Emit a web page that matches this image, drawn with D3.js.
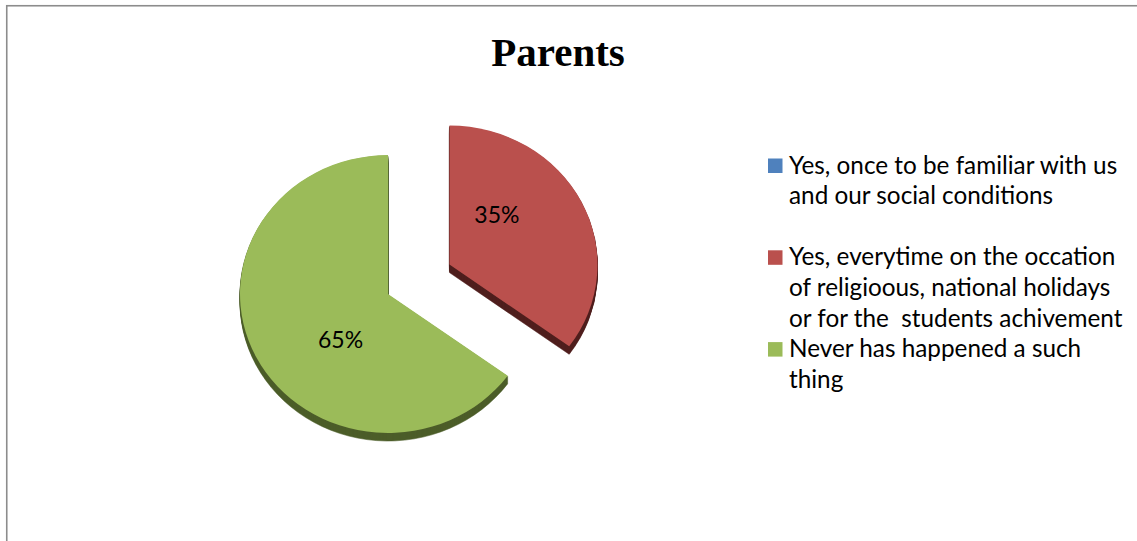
<!DOCTYPE html>
<html>
<head>
<meta charset="utf-8">
<script src="https://cdn.jsdelivr.net/npm/d3@7"></script>
<style>
  html, body { margin: 0; padding: 0; background: #fff; }
  svg { display: block; }
</style>
</head>
<body>
<svg id="chart" width="1137" height="541"></svg>
<script>
// Survey answers for the "Parents" question
const title = "Parents";
const categories = [
  "Yes, once to be familiar with us and our social conditions",
  "Yes, everytime on the occation of religioous, national holidays or for the  students achivement",
  "Never has happened a such thing"
];
// Legend text split into its display lines
const legendLines = [
  ["Yes, once to be familiar with us", "and our social conditions"],
  ["Yes, everytime on the occation", "of religioous, national holidays", "or for the  students achivement"],
  ["Never has happened a such", "thing"]
];
const values = [0, 35, 65];           // percent
const colors = ["#4F81BD", "#BA504D", "#9BBB59"];
const sideColors = ["#27405E", "#4F1F1E", "#4C5D29"];

const svg = d3.select("#chart");
const W = 1137, H = 541;

// chart frame (runs off the right and bottom edges)
svg.append("rect")
  .attr("x", 6.75).attr("y", 5.75)
  .attr("width", W + 20).attr("height", H + 20)
  .attr("fill", "#fff")
  .attr("stroke", "#8C8C8C").attr("stroke-width", 1.6);

// title
svg.append("text")
  .attr("x", 558).attr("y", 66)
  .attr("text-anchor", "middle")
  .attr("font-family", "'Liberation Serif', 'Times New Roman', serif")
  .attr("font-weight", "bold")
  .attr("font-size", 41)
  .attr("fill", "#000")
  .text(title);

// pie geometry: slightly tilted disc with a thin extruded edge
const cx = 388, cy = 294;
const R = 148;
const squash = 139 / 148;
const depth = 8;
const explodeIndex = 1;
const explodeDist = 69;
const labelShift = -20 * Math.PI / 180;

const total = d3.sum(values);
const pie = d3.pie().sort(null).value(d => d).startAngle(0).endAngle(2 * Math.PI);
const arcs = pie(values);
const arc = d3.arc().innerRadius(0).outerRadius(R);
const pct = d3.format(".0%");

const pieG = svg.append("g");

// draw the non-exploded slices first
const order = arcs.map((a, i) => i).sort((a, b) => (a === explodeIndex) - (b === explodeIndex));

order.forEach(i => {
  const a = arcs[i];
  if (a.endAngle - a.startAngle <= 0) return;
  const mid = (a.startAngle + a.endAngle) / 2;
  const dist = i === explodeIndex ? explodeDist : 0;
  const ox = cx + dist * Math.sin(mid);
  const oy = cy - dist * Math.cos(mid) * squash;
  const g = pieG.append("g");
  // extruded side
  for (let k = depth; k >= 1; k--) {
    g.append("path")
      .attr("transform", `translate(${ox},${oy + k}) scale(1,${squash})`)
      .attr("d", arc(a))
      .attr("fill", sideColors[i])
      .attr("stroke", sideColors[i])
      .attr("stroke-width", 0.6);
  }
  // top face
  g.append("path")
    .attr("transform", `translate(${ox},${oy}) scale(1,${squash})`)
    .attr("d", arc(a))
    .attr("fill", colors[i]);
});

// percentage labels
arcs.forEach((a, i) => {
  if (a.value <= 0) return;
  const mid = (a.startAngle + a.endAngle) / 2;
  const dist = i === explodeIndex ? explodeDist : 0;
  const ox = cx + dist * Math.sin(mid);
  const oy = cy - dist * Math.cos(mid) * squash;
  const lr = R * 0.47;
  const ang = mid + labelShift;
  svg.append("text")
    .attr("x", ox + lr * Math.sin(ang))
    .attr("y", oy - lr * Math.cos(ang) * squash - 1.5)
    .attr("dy", "0.35em")
    .attr("text-anchor", "middle")
    .attr("font-family", "Lato, 'Open Sans', sans-serif")
    .attr("font-size", 23)
    .attr("fill", "#000")
    .text(pct(a.value / total));
});

// legend
const legX = 768, legY = 173.5, lineH = 30.6, slotLines = 3, sw = 14.5;
const leg = svg.append("g")
  .attr("font-family", "Lato, 'Open Sans', sans-serif")
  .attr("font-size", 24.3)
  .attr("fill", "#000");

categories.forEach((c, i) => {
  const base = legY + i * slotLines * lineH;
  leg.append("rect")
    .attr("x", legX).attr("y", base - 15)
    .attr("width", sw).attr("height", sw)
    .attr("fill", colors[i]);
  const t = leg.append("text")
    .attr("x", legX + 21).attr("y", base)
    .style("white-space", "pre");
  legendLines[i].forEach((ln, j) => {
    t.append("tspan")
      .attr("x", legX + 21)
      .attr("y", base + j * lineH)
      .text(ln);
  });
});
</script>
</body>
</html>
